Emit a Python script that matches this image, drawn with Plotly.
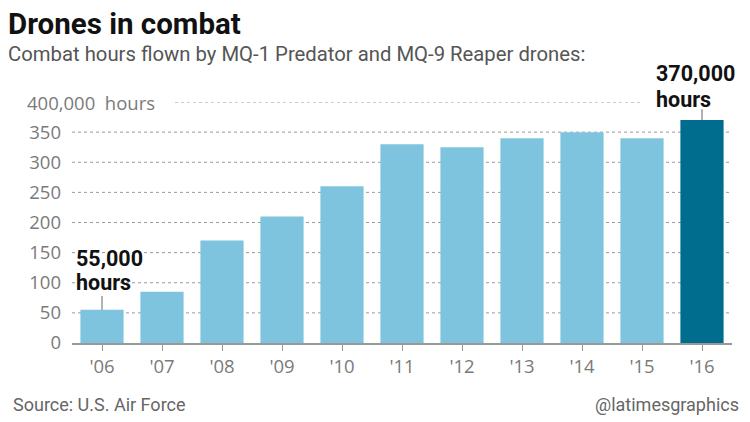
import plotly.graph_objects as go

years = ["'06", "'07", "'08", "'09", "'10", "'11", "'12", "'13", "'14", "'15", "'16"]
hours_k = [55, 85, 170, 210, 260, 330, 325, 340, 350, 340, 370]
y_ticks = [0, 50, 100, 150, 200, 250, 300, 350]
y_tick_text = ["0", "50", "100", "150", "200", "250", "300", "350"]

LIGHT = "#7fc4de"
DARK = "#006d8f"
colors = [LIGHT] * (len(years) - 1) + [DARK]

W, H = 750, 422
L, R, T, B = 72, 18, 102, 79
pw = W - L - R
ph = H - T - B

def px_x(p):
    return (p - L) / pw

def px_y(p):
    return (H - B - p) / ph

fig = go.Figure()
fig.add_trace(go.Bar(x=years, y=hours_k, marker=dict(color=colors, line=dict(width=0)),
                     width=0.72, hoverinfo="skip"))

cond = "Liberation Sans Narrow, Roboto, Arial Narrow, sans-serif"
sans = "Open Sans, Roboto, Liberation Sans, Arial, sans-serif"
rob = "Roboto, Liberation Sans, Arial, sans-serif"
TICK = "#7a7a7a"

shapes = []
for v in y_ticks[1:]:
    shapes.append(dict(type="line", xref="paper", yref="y", x0=0, x1=1, y0=v, y1=v,
                       line=dict(color="#9a9a9a", width=1, dash="dot"), layer="below"))
shapes.append(dict(type="line", xref="paper", yref="y", x0=px_x(175), x1=px_x(640), y0=400, y1=400,
                   line=dict(color="#9a9a9a", width=1, dash="dot"), layer="below"))
# leader lines
shapes.append(dict(type="line", xref="x", yref="y", x0=years[0], x1=years[0], y0=hours_k[0], y1=hours_k[0] + 23,
                   line=dict(color="#666", width=1)))
shapes.append(dict(type="line", xref="x", yref="y", x0=years[-1], x1=years[-1], y0=hours_k[-1], y1=hours_k[-1] + 18,
                   line=dict(color="#666", width=1)))

def ann(text, x, y, size, family, color, xanchor="left", yanchor="top", yref="paper"):
    return dict(text=text, xref="paper", yref=yref, x=x, y=y, xanchor=xanchor, yanchor=yanchor,
                showarrow=False, align="left", borderpad=0,
                font=dict(family=family, size=size, color=color))

annotations = [
    ann("<b>Drones in combat</b>", px_x(7), px_y(6), 29.5, rob, "#111"),
    ann("Combat hours flown by MQ-1 Predator and MQ-9 Reaper drones:", px_x(7), px_y(41), 20.3, rob, "#555"),
    ann("400,000&nbsp;&nbsp;hours", px_x(26), 400, 18.5, sans, TICK, yanchor="middle", yref="y"),
    ann("<b>55,000</b>", px_x(75), px_y(245), 21.5, rob, "#111"),
    ann("<b>hours</b>", px_x(75), px_y(269), 21.5, rob, "#111"),
    ann("<b>370,000</b>", px_x(655), px_y(60), 21.5, rob, "#111"),
    ann("<b>hours</b>", px_x(655), px_y(86), 21.5, rob, "#111"),
    ann("Source: U.S. Air Force", px_x(12), px_y(404), 18, cond, "#666", yanchor="middle"),
    ann("@latimesgraphics", px_x(740), px_y(404), 18, cond, "#666", xanchor="right", yanchor="middle"),
]

fig.update_layout(
    width=W, height=H, margin=dict(l=L, r=R, t=T, b=B),
    paper_bgcolor="white", plot_bgcolor="white", showlegend=False,
    bargap=0.28, shapes=shapes, annotations=annotations,
    xaxis=dict(range=[-0.5, len(years) - 0.5], showgrid=False, showline=True, linecolor="#999", linewidth=1.5,
               ticks="outside", ticklen=6, tickcolor="#999", tickfont=dict(family=sans, size=18.5, color=TICK),
               fixedrange=True),
    yaxis=dict(range=[0, 400], tickvals=y_ticks, ticktext=y_tick_text, showgrid=False, zeroline=False,
               showline=False, ticks="", ticklabelstandoff=10,
               tickfont=dict(family=sans, size=18.5, color=TICK), fixedrange=True),
)

fig.write_html("out.html")
